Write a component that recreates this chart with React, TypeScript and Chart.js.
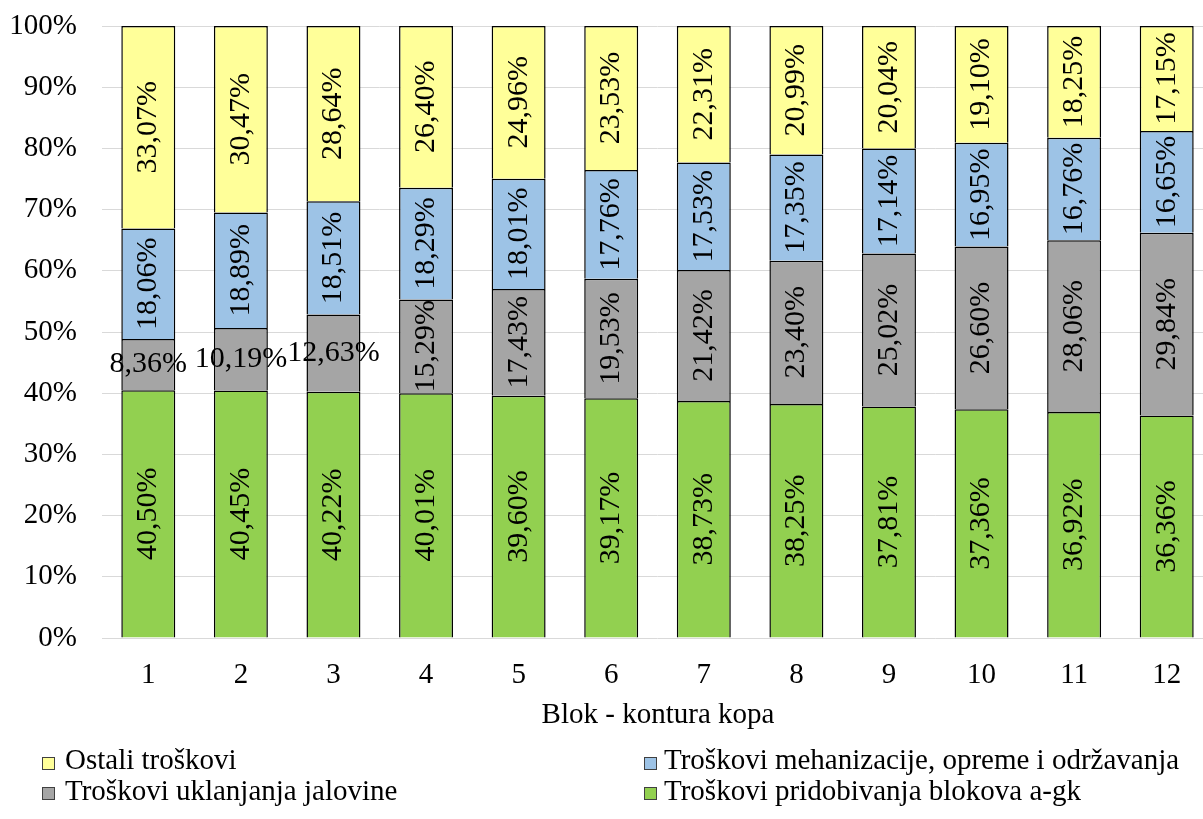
import React, { useEffect, useRef } from "react";
import { Chart, registerables } from "chart.js";

Chart.register(...registerables);

const categories = ["1", "2", "3", "4", "5", "6", "7", "8", "9", "10", "11", "12"];
const pridobivanje = [40.5, 40.45, 40.22, 40.01, 39.6, 39.17, 38.73, 38.25, 37.81, 37.36, 36.92, 36.36];
const jalovina = [8.36, 10.19, 12.63, 15.29, 17.43, 19.53, 21.42, 23.4, 25.02, 26.6, 28.06, 29.84];
const mehanizacija = [18.06, 18.89, 18.51, 18.29, 18.01, 17.76, 17.53, 17.35, 17.14, 16.95, 16.76, 16.65];
const ostali = [33.07, 30.47, 28.64, 26.4, 24.96, 23.53, 22.31, 20.99, 20.04, 19.1, 18.25, 17.15];
const seriesNames = [
  "Troškovi pridobivanja blokova a-gk",
  "Troškovi uklanjanja jalovine",
  "Troškovi mehanizacije, opreme i održavanja",
  "Ostali troškovi",
];
const seriesColors = ["#92D050", "#A5A5A5", "#9DC3E6", "#FFFF99"];
const axisTitle = "Blok - kontura kopa";

const FONT = '"Liberation Serif", "Times New Roman", serif';
const FS = 29;
const LFS = 30;

const fmt = (v: number) => v.toFixed(2).replace(".", ",") + "%";

const overlay = {
  id: "overlay",
  afterDatasetsDraw(chart: any) {
    const ctx = chart.ctx;
    ctx.save();
    ctx.font = `${LFS}px ${FONT}`;
    ctx.fillStyle = "#000";
    ctx.textAlign = "center";
    ctx.textBaseline = "middle";
    chart.data.datasets.forEach((ds: any, di: number) => {
      const meta = chart.getDatasetMeta(di);
      meta.data.forEach((bar: any, i: number) => {
        const v = ds.data[i] as number;
        const { x, y, base } = bar.getProps(["x", "y", "base"], true);
        const cy = (y + base) / 2;
        const txt = fmt(v);
        if (v < 15) {
          ctx.fillText(txt, x, cy);
        } else {
          ctx.save();
          ctx.translate(x, cy);
          ctx.rotate(-Math.PI / 2);
          ctx.fillText(txt, 0, 0);
          ctx.restore();
        }
      });
    });
    ctx.restore();
  },
  afterDraw(chart: any) {
    const ctx = chart.ctx;
    ctx.save();
    ctx.font = `${FS}px ${FONT}`;
    ctx.fillStyle = "#000";
    ctx.textAlign = "center";
    ctx.textBaseline = "alphabetic";
    ctx.fillText(axisTitle, 658, 723);
    // legend: 2x2 grid
    const items = [
      { idx: 3, bx: 42, tx: 65, by: 757, base: 769 },
      { idx: 2, bx: 644, tx: 664, by: 757, base: 769 },
      { idx: 1, bx: 42, tx: 65, by: 787, base: 800 },
      { idx: 0, bx: 644, tx: 664, by: 787, base: 800 },
    ];
    ctx.textAlign = "left";
    items.forEach((it) => {
      ctx.fillStyle = seriesColors[it.idx];
      ctx.fillRect(it.bx, it.by, 13, 13);
      ctx.strokeStyle = "#404040";
      ctx.lineWidth = 1;
      ctx.strokeRect(it.bx + 0.5, it.by + 0.5, 12, 12);
      ctx.fillStyle = "#000";
      ctx.fillText(seriesNames[it.idx], it.tx, it.base);
    });
    ctx.restore();
  },
};

export default function App() {
  const ref = useRef<HTMLCanvasElement | null>(null);
  useEffect(() => {
    if (!ref.current) return;
    const datasets = [pridobivanje, jalovina, mehanizacija, ostali].map((d, i) => ({
      label: seriesNames[i],
      data: d,
      backgroundColor: seriesColors[i],
      borderColor: "#000",
      borderWidth: 1.5,
      categoryPercentage: 1,
      barPercentage: 0.583,
    }));
    const chart = new Chart(ref.current, {
      type: "bar",
      data: { labels: categories, datasets },
      plugins: [overlay],
      options: {
        animation: false,
        responsive: false,
        devicePixelRatio: 1,
        layout: { padding: { top: 26, right: 0, left: 0, bottom: 0 } },
        plugins: { legend: { display: false }, tooltip: { enabled: false } },
        scales: {
          x: {
            stacked: true,
            grid: { display: false },
            border: { display: false },
            ticks: { color: "#000", font: { family: FONT, size: FS }, padding: 12 },
            afterFit: (s: any) => {
              s.height = 181;
            },
          },
          y: {
            stacked: true,
            min: 0,
            max: 100,
            grid: { color: "#D9D9D9", lineWidth: 1, drawTicks: false },
            border: { display: false },
            ticks: {
              stepSize: 10,
              color: "#000",
              padding: 25,
              font: { family: FONT, size: FS, lineHeight: 0.05 },
              callback: (v: any) => v + "%",
            },
            afterFit: (s: any) => {
              s.width = 102;
            },
          },
        },
      },
    });
    return () => chart.destroy();
  }, []);
  return (
    <div style={{ position: "fixed", left: 0, top: 0, width: 1203, height: 819, overflow: "hidden", background: "#fff" }}>
      <canvas ref={ref} width={1213} height={819} style={{ display: "block" }} />
    </div>
  );
}
